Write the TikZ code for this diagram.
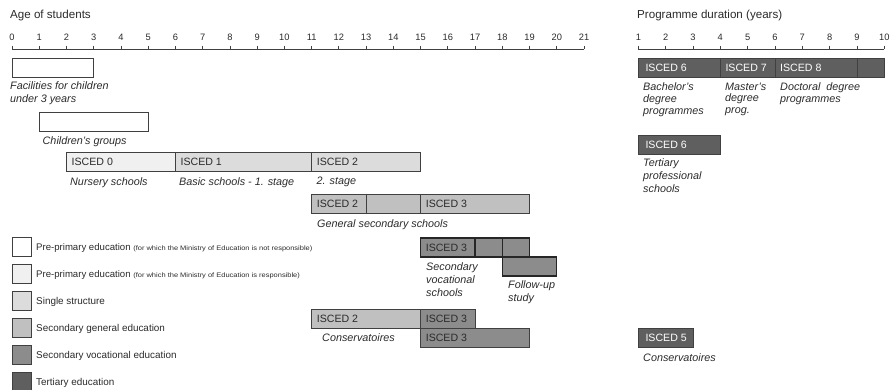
\documentclass[tikz,border=0pt]{standalone}
\usepackage{fontspec}
\setmainfont{Liberation Sans}
\newfontfamily\smallfont[FakeStretch=1.15]{Liberation Sans}
\newcommand\smtxt{\smallfont\fontsize{6.5}{7}\selectfont}
\usetikzlibrary{fit}
\definecolor{txt}{HTML}{2A2A2A}
\definecolor{cW}{HTML}{FFFFFF}
\definecolor{cA}{HTML}{F0F0F0}
\definecolor{cB}{HTML}{DCDCDC}
\definecolor{cC}{HTML}{C0C0C0}
\definecolor{cD}{HTML}{8C8C8C}
\definecolor{cE}{HTML}{5F5F5F}
\definecolor{edge}{HTML}{404040}
\begin{document}
\begin{tikzpicture}[x=1pt,y=-1pt,
 declare function={X(\a)=12+27.24*\a; R(\a)=611+27.33*\a;},
 bar/.style={draw=edge, line width=0.9pt, inner sep=0pt, outer sep=0pt},
 vbar/.style={bar, draw=black!85, line width=1.3pt},
 isc/.style={font=\fontsize{10.6}{12}\selectfont, text=txt, inner sep=0pt, anchor=west},
 iscw/.style={isc, text=white},
 itl/.style={font=\fontsize{10.8}{13}\selectfont\itshape, text=txt, inner sep=0pt, anchor=north west, align=left},
 tick/.style={font=\fontsize{9.3}{10}\selectfont, text=txt, inner sep=0pt, anchor=base},
 ttl/.style={font=\fontsize{11.6}{13}\selectfont, text=txt, inner sep=0pt, anchor=base west},
 axis/.style={draw=edge, line width=0.8pt},
 leg/.style={draw=edge, line width=0.9pt, minimum size=19pt, inner sep=0pt, anchor=west},
 legt/.style={font=\fontsize{9.9}{11}\selectfont, text=txt, inner sep=0pt, anchor=base west},
]
\useasboundingbox (0,0) rectangle (891,390);

% ---------- titles and axes ----------
\node[ttl] (tleft) at (10,19) {Age of students};
\node[ttl] (tright) at (637,19) {Programme duration (years)};
\draw[axis] ({X(0)},49) -- ({X(21)},49);
\foreach \i in {0,...,21} {
  \draw[axis] ({X(\i)},46) -- ({X(\i)},49);
  \node[tick] (lt\i) at ({X(\i)},40.5) {\i};
}
\draw[axis] ({R(1)},49) -- ({R(10)},49);
\foreach \i in {1,...,10} {
  \draw[axis] ({R(\i)},46) -- ({R(\i)},49);
  \node[tick] (rt\i) at ({R(\i)},40.5) {\i};
}

% ---------- left chart ----------
\node[bar, fill=cW, fit={({X(0)},58) ({X(3)},77)}] (fac) {};
\node[itl] (facl) at (10,81.5) {Facilities for children\\under 3 years};

\node[bar, fill=cW, fit={({X(1)},112.5) ({X(5)},131)}] (chg) {};
\node[itl] (chgl) at (42.5,136.5) {Children's groups};

\node[bar, fill=cA, fit={({X(2)},152) ({X(6)},171)}] (i0) {};
\node[isc] (i0t) at ([xshift=5pt]i0.west) {ISCED 0};
\node[bar, fill=cB, fit={({X(6)},152) ({X(11)},171)}] (i1) {};
\node[isc] (i1t) at ([xshift=5pt]i1.west) {ISCED 1};
\node[bar, fill=cB, fit={({X(11)},152) ({X(15)},171)}] (i2) {};
\node[isc] (i2t) at ([xshift=5pt]i2.west) {ISCED 2};
\node[itl] (i0l) at (70,177.5) {Nursery schools};
\node[itl] (i1l) at (179,177.5) {Basic schools - 1. stage};
\node[itl] (i2l) at (316.5,176.5) {2. stage};

\node[bar, fill=cC, fit={({X(11)},194.5) ({X(13)},213.5)}] (g2) {};
\node[isc] (g2t) at ([xshift=5pt]g2.west) {ISCED 2};
\node[bar, fill=cC, fit={({X(13)},194.5) ({X(15)},213.5)}] (g2b) {};
\node[bar, fill=cC, fit={({X(15)},194.5) ({X(19)},213.5)}] (g3) {};
\node[isc] (g3t) at ([xshift=5pt]g3.west) {ISCED 3};
\node[itl] (gl) at (317,219.5) {General secondary schools};

\node[vbar, fill=cD, fit={({X(18)},257) ({X(20)},276)}] (fu) {};
\node[vbar, fill=cD, fit={({X(15)},238) ({X(17)},257)}] (v3) {};
\node[isc] (v3t) at ([xshift=5pt]v3.west) {ISCED 3};
\node[vbar, fill=cD, fit={({X(17)},238) ({X(18)},257)}] (v3b) {};
\node[vbar, fill=cD, fit={({X(18)},238) ({X(19)},257)}] (v3c) {};
\node[itl] (vl) at (426,262.5) {Secondary\\vocational\\schools};
\node[itl] (ful) at (508,280.5) {Follow-up\\study};

\node[bar, fill=cC, fit={({X(11)},309) ({X(15)},328)}] (c2) {};
\node[isc] (c2t) at ([xshift=5pt]c2.west) {ISCED 2};
\node[bar, fill=cD, fit={({X(15)},309) ({X(17)},328)}] (c3) {};
\node[isc] (c3t) at ([xshift=5pt]c3.west) {ISCED 3};
\node[bar, fill=cD, fit={({X(15)},328) ({X(19)},347)}] (c3b) {};
\node[isc] (c3bt) at ([xshift=5pt]c3b.west) {ISCED 3};
\node[itl] (cl) at (322,333.5) {Conservatoires};

% ---------- right chart ----------
\node[bar, fill=cE, fit={({R(1)},58) ({R(4)},77)}] (t6) {};
\node[iscw] (t6t) at ([xshift=7pt]t6.west) {ISCED 6};
\node[bar, fill=cE, fit={({R(4)},58) ({R(6)},77)}] (t7) {};
\node[iscw] (t7t) at ([xshift=5pt]t7.west) {ISCED 7};
\node[bar, fill=cE, fit={({R(6)},58) ({R(9)},77)}] (t8) {};
\node[iscw] (t8t) at ([xshift=5pt]t8.west) {ISCED 8};
\node[bar, fill=cE, fit={({R(9)},58) ({R(10)},77)}] (t9) {};
\node[itl, font=\fontsize{10.8}{11.8}\selectfont\itshape] (t6l) at (643,82.5) {Bachelor's\\degree\\programmes};
\node[itl, font=\fontsize{10.8}{11.8}\selectfont\itshape] (t7l) at (725,82.5) {Master's\\degree\\prog.};
\node[itl, font=\fontsize{10.8}{11.8}\selectfont\itshape] (t8l) at (780,82.5) {Doctoral\ \ degree\\programmes};

\node[bar, fill=cE, fit={({R(1)},135) ({R(4)},154)}] (tp) {};
\node[iscw] (tpt) at ([xshift=7pt]tp.west) {ISCED 6};
\node[itl] (tpl) at (643,158.5) {Tertiary\\professional\\schools};

\node[bar, fill=cE, fit={({R(1)},328) ({R(3)},347)}] (t5) {};
\node[iscw] (t5t) at ([xshift=7pt]t5.west) {ISCED 5};
\node[itl] (t5l) at (643,353.5) {Conservatoires};

% ---------- legend ----------
\node[leg, fill=cW] (lb1) at (12,246.5) {};
\node[legt, font=\fontsize{9.6}{11}\selectfont] (lt1) at (36,250) {Pre-primary education {\smtxt (for which the Ministry of Education is not responsible)}};
\node[leg, fill=cA] (lb2) at (12,274) {};
\node[legt, font=\fontsize{9.6}{11}\selectfont] (lt2) at (36,277.5) {Pre-primary education {\smtxt (for which the Ministry of Education is responsible)}};
\node[leg, fill=cB] (lb3) at (12,301) {};
\node[legt] (lt3) at (36,304.5) {Single structure};
\node[leg, fill=cC] (lb4) at (12,328) {};
\node[legt] (lt4) at (36,331.5) {Secondary general education};
\node[leg, fill=cD] (lb5) at (12,355) {};
\node[legt] (lt5) at (36,358.5) {Secondary vocational education};
\node[leg, fill=cE] (lb6) at (12,382) {};
\node[legt] (lt6) at (36,385.5) {Tertiary education};
\end{tikzpicture}
\end{document}
